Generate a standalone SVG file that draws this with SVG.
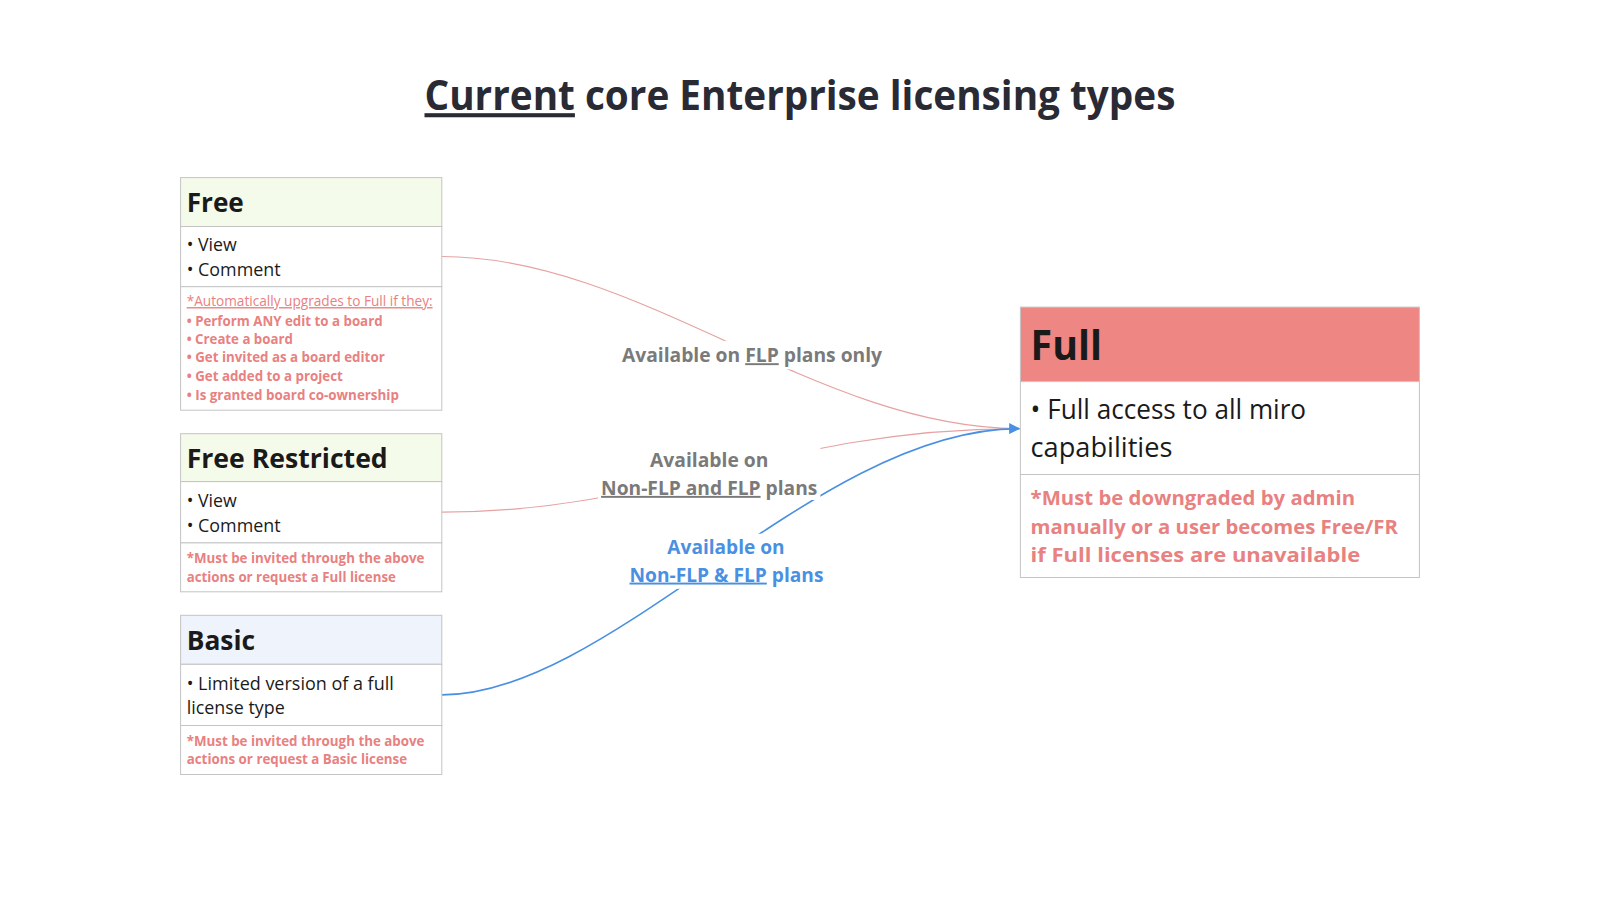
<svg xmlns="http://www.w3.org/2000/svg" width="1600" height="900" viewBox="0 0 1600 900">
<style>
text{font-family:"Open Sans","Noto Sans","Liberation Sans",sans-serif;}
.box{stroke:#c4c4c4;stroke-width:1;}
.hd{font-weight:700;fill:#1a1a1a;font-size:27.6px;}
.bd{fill:#1a1a1a;font-size:17.3px;}
.nt{fill:#e8817f;font-size:13.8px;font-weight:700;}
.ntr{fill:#e8817f;font-size:13.8px;font-weight:400;}
.fb{fill:#1a1a1a;font-size:26.5px;}
.fn{fill:#e8817f;font-size:20.4px;font-weight:700;}
.lbl{font-weight:700;font-size:19.4px;fill:#7a7a7a;text-anchor:middle;}
.blue{fill:#4a90e2;}
.u{text-decoration:underline;}
.pink{fill:none;stroke:#e6a2a2;stroke-width:1.2;}
.bl{fill:none;stroke:#4a90e2;stroke-width:1.6;}
</style>
<defs>
<marker id="arrB" viewBox="0 0 10 10" refX="9" refY="5" markerWidth="11" markerHeight="11" orient="auto" markerUnits="userSpaceOnUse">
<path d="M0,0 L10,5 L0,10 z" fill="#4a90e2"/>
</marker>
</defs>
<rect width="1600" height="900" fill="#ffffff"/>

<text x="800" y="110.2" text-anchor="middle" font-size="40.8" font-weight="700" fill="#2a2a35" textLength="751" lengthAdjust="spacingAndGlyphs"><tspan class="u">Current</tspan> core Enterprise licensing types</text>

<g id="connectors">
<path class="pink" d="M441.8,256.5 C640,256.5 816.3,428.6 1020.4,428.6"/>
<path class="pink" d="M441.8,512.2 C663.3,512.2 775.5,428.6 1020.4,428.6"/>
<path class="bl" d="M441.8,694.9 C612.2,694.9 816.3,428.6 1019,428.6" marker-end="url(#arrB)"/>
<rect x="617.3" y="340.8" width="270.4" height="28.6" fill="#fff"/>
<rect x="598" y="447" width="222.4" height="53" fill="#fff"/>
<rect x="625.5" y="533.7" width="202" height="55.1" fill="#fff"/>
<text class="lbl" x="752" y="362.2" textLength="260.2" lengthAdjust="spacingAndGlyphs">Available on <tspan class="u">FLP</tspan> plans only</text>
<text class="lbl" x="709.2" y="467.3" textLength="118.4" lengthAdjust="spacingAndGlyphs">Available on</text>
<text class="lbl" x="709.2" y="494.9" textLength="216.3" lengthAdjust="spacingAndGlyphs"><tspan class="u">Non-FLP and FLP</tspan> plans</text>
<text class="lbl blue" x="726" y="554.1" textLength="117.3" lengthAdjust="spacingAndGlyphs">Available on</text>
<text class="lbl blue" x="726.5" y="581.6" textLength="193.9" lengthAdjust="spacingAndGlyphs"><tspan class="u">Non-FLP &amp; FLP</tspan> plans</text>
</g>

<g id="free">
<rect class="box" x="180.6" y="177.6" width="261.2" height="48.9" fill="#f5fbea"/>
<rect class="box" x="180.6" y="226.5" width="261.2" height="60.2" fill="#fff"/>
<rect class="box" x="180.6" y="286.7" width="261.2" height="123.5" fill="#fff"/>
<text class="hd" x="186.7" y="212.2" textLength="57.1" lengthAdjust="spacingAndGlyphs">Free</text>
<text class="bd" x="186.7" y="251" textLength="50" lengthAdjust="spacingAndGlyphs">• View</text>
<text class="bd" x="186.7" y="275.5" textLength="93.9" lengthAdjust="spacingAndGlyphs">• Comment</text>
<text class="ntr" x="186.7" y="306.1" textLength="245.9" lengthAdjust="spacingAndGlyphs"><tspan class="u">*Automatically upgrades to Full if they: </tspan></text>
<text class="nt" x="186.7" y="325.5" textLength="195.9" lengthAdjust="spacingAndGlyphs">• Perform ANY edit to a board</text>
<text class="nt" x="186.7" y="343.9" textLength="106.1" lengthAdjust="spacingAndGlyphs">• Create a board</text>
<text class="nt" x="186.7" y="362.2" textLength="198" lengthAdjust="spacingAndGlyphs">• Get invited as a board editor</text>
<text class="nt" x="186.7" y="380.6" textLength="156.1" lengthAdjust="spacingAndGlyphs">• Get added to a project</text>
<text class="nt" x="186.7" y="400" textLength="212.2" lengthAdjust="spacingAndGlyphs">• Is granted board co-ownership</text>
</g>

<g id="free-restricted">
<rect class="box" x="180.6" y="433.7" width="261.2" height="47.9" fill="#f5fbea"/>
<rect class="box" x="180.6" y="481.6" width="261.2" height="61.3" fill="#fff"/>
<rect class="box" x="180.6" y="542.9" width="261.2" height="48.9" fill="#fff"/>
<text class="hd" x="186.7" y="468.4" textLength="201" lengthAdjust="spacingAndGlyphs">Free Restricted</text>
<text class="bd" x="186.7" y="507.1" textLength="50" lengthAdjust="spacingAndGlyphs">• View</text>
<text class="bd" x="186.7" y="531.6" textLength="93.9" lengthAdjust="spacingAndGlyphs">• Comment</text>
<text class="nt" x="186.7" y="563.3" textLength="237.8" lengthAdjust="spacingAndGlyphs">*Must be invited through the above</text>
<text class="nt" x="186.7" y="581.6" textLength="209.2" lengthAdjust="spacingAndGlyphs">actions or request a Full license</text>
</g>

<g id="basic">
<rect class="box" x="180.6" y="615.3" width="261.2" height="49" fill="#eef3fc"/>
<rect class="box" x="180.6" y="664.3" width="261.2" height="61.2" fill="#fff"/>
<rect class="box" x="180.6" y="725.5" width="261.2" height="49" fill="#fff"/>
<text class="hd" x="186.7" y="650" textLength="68.4" lengthAdjust="spacingAndGlyphs">Basic</text>
<text class="bd" x="186.7" y="689.8" textLength="207.1" lengthAdjust="spacingAndGlyphs">• Limited version of a full</text>
<text class="bd" x="186.7" y="714.3" textLength="98" lengthAdjust="spacingAndGlyphs">license type</text>
<text class="nt" x="186.7" y="745.9" textLength="237.8" lengthAdjust="spacingAndGlyphs">*Must be invited through the above</text>
<text class="nt" x="186.7" y="764.3" textLength="220.4" lengthAdjust="spacingAndGlyphs">actions or request a Basic license</text>
</g>

<g id="full">
<rect class="box" x="1020.4" y="307.1" width="399" height="74.5" fill="#ee8683"/>
<rect class="box" x="1020.4" y="381.6" width="399" height="92.9" fill="#fff"/>
<rect class="box" x="1020.4" y="474.5" width="399" height="103" fill="#fff"/>
<text x="1030.6" y="360.2" font-size="40.8" font-weight="700" fill="#1a1a1a" textLength="71.4" lengthAdjust="spacingAndGlyphs">Full</text>
<text class="fb" x="1030.6" y="419.4" textLength="275.5" lengthAdjust="spacingAndGlyphs">• Full access to all miro</text>
<text class="fb" x="1030.6" y="457.1" textLength="141.8" lengthAdjust="spacingAndGlyphs">capabilities</text>
<text class="fn" x="1030.6" y="505.1" textLength="324.5" lengthAdjust="spacingAndGlyphs">*Must be downgraded by admin</text>
<text class="fn" x="1030.6" y="533.7" textLength="367.3" lengthAdjust="spacingAndGlyphs">manually or a user becomes Free/FR</text>
<text class="fn" x="1030.6" y="562.2" textLength="329.6" lengthAdjust="spacingAndGlyphs">if Full licenses are unavailable</text>
</g>
</svg>
